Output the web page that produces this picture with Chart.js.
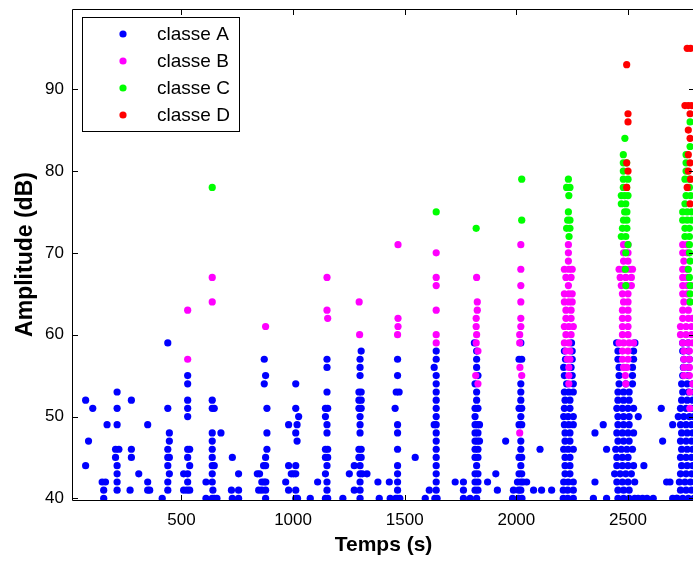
<!DOCTYPE html>
<html>
<head>
<meta charset="utf-8">
<script src="https://cdn.jsdelivr.net/npm/chart.js@4"></script>
<style>
  html, body { margin: 0; padding: 0; background: #fff; overflow: hidden; }
  #wrap { width: 700px; height: 561px; }
</style>
</head>
<body>
<div id="wrap"><canvas id="chart" width="700" height="561"></canvas></div>
<script>
// Ticks
var xTicks = [500, 1000, 1500, 2000, 2500];
var yTicks = [40, 50, 60, 70, 80, 90];

// Points: [temps (s), amplitude (dB)]
var classA = [
  [71,52],[103,51],[84,47],[71,44],[145,42],[160,42],[152,41],[152,40],[167,49],
  [212,53],[212,51],[212,49],[205,46],[220,46],[205,45],[212,44],[212,43],[212,42],[212,41],
  [276,52],[276,46],[276,45],[309,43],[270,41],[349,49],[349,42],[349,41],[358,41],[414,40],
  [439,59],[439,51],[446,48],[446,47],[439,46],[439,45],[446,45],[439,44],[446,43],[439,42],[439,41],
  [510,43],[510,41],[525,41],[537,41],
  [528,55],[528,54],[528,52],[528,51],[528,50],[528,46],[537,46],[528,45],[537,44],[528,43],[528,42],
  [610,42],[610,40],
  [638,52],[638,51],[647,51],[677,48],[638,48],[638,47],[638,46],[638,45],[638,44],[647,44],[638,43],[638,42],[641,41],[638,40],[647,40],[659,40],
  [728,45],[724,41],[728,40],[756,43],[756,41],[756,40],
  [840,43],[850,43],[860,42],[870,42],[878,42],[846,41],[860,41],[877,41],[877,40],[868,44],[877,44],[877,45],[883,46],[883,48],[883,51],[871,54],[877,55],[871,57],
  [967,42],[980,49],[980,44],[980,41],[992,43],
  [1012,54],[1012,51],[1025,50],[1018,49],[1012,48],[1018,47],[1012,44],[1002,43],[1012,43],[1012,41],[1012,40],[1020,40],
  [1077,40],[1110,42],
  [1152,57],[1152,56],[1152,53],[1145,51],[1155,51],[1145,50],[1152,49],[1152,48],[1145,46],[1155,46],[1145,45],[1155,45],[1152,44],[1145,43],[1152,42],[1152,41],[1145,40],[1155,40],
  [1223,40],[1252,43],[1274,44],[1274,41],
  [1305,58],[1300,57],[1300,56],[1300,55],[1295,53],[1305,53],[1295,52],[1305,52],[1295,51],[1305,51],[1300,50],[1300,49],[1300,48],[1295,46],[1305,46],[1295,45],[1305,45],[1300,44],[1300,43],[1310,43],[1300,42],[1300,41],[1300,40],
  [1331,43],[1380,42],[1386,40],[1431,42],[1435,40],
  [1468,57],[1468,55],[1462,53],[1475,53],[1457,51],[1468,49],[1468,48],[1468,46],[1468,44],[1468,43],[1468,42],[1468,41],[1460,40],[1468,40],[1478,40],
  [1547,45],[1592,40],[1610,41],
  [1641,58],[1641,57],[1632,56],[1641,55],[1641,54],[1641,53],[1641,52],[1641,51],[1641,50],[1632,49],[1641,49],[1641,48],[1641,47],[1641,46],[1641,45],[1641,44],[1641,43],[1641,42],[1641,41],[1635,40],[1645,40],
  [1726,42],[1763,42],[1763,41],[1763,40],[1793,40],
  [1812,59],[1822,58],[1822,57],[1822,56],[1828,55],[1815,54],[1822,53],[1822,52],[1815,51],[1828,51],[1815,50],[1815,49],[1825,49],[1835,49],[1815,48],[1828,48],[1815,47],[1825,47],[1835,47],[1815,46],[1828,46],[1815,45],[1828,45],[1822,44],[1815,43],[1828,43],[1815,42],[1828,42],[1815,41],[1828,41],[1822,40],
  [1871,42],[1908,43],[1915,41],[1952,47],[1987,41],[1983,40],
  [2020,59],[2012,57],[2024,57],[2020,54],[2020,53],[2020,52],[2012,51],[2024,51],[2020,50],[2012,49],[2024,49],[2020,47],[2020,46],[2012,45],[2024,45],[2020,44],[2012,43],[2024,43],[2005,42],[2020,42],[2030,42],[2010,41],[2020,41],[2010,40],[2025,40],
  [2046,42],[2077,41],[2106,46],[2113,41],[2158,41],
  [2247,59],[2215,58],[2250,58],[2220,57],[2250,57],[2212,56],[2245,56],[2215,55],[2250,55],[2225,54],[2255,54],[2215,53],[2235,53],[2255,53],[2218,52],[2240,52],[2215,51],[2240,51],[2212,50],[2232,50],[2255,50],[2215,49],[2235,49],[2255,49],[2218,48],[2240,48],[2218,47],[2240,47],[2212,46],[2232,46],[2255,46],[2218,45],[2240,45],[2218,44],[2240,44],[2218,43],[2240,43],[2212,42],[2232,42],[2255,42],[2210,41],[2230,41],[2255,41],[2210,40],[2230,40],[2255,40],
  [2352,48],[2352,42],[2345,40],[2389,49],[2404,46],[2404,40],
  [2449,59],[2531,59],[2455,58],[2525,58],[2455,57],[2525,57],[2460,56],[2520,56],[2460,55],[2520,55],[2460,54],[2490,54],[2520,54],[2455,53],[2480,53],[2505,53],[2455,52],[2480,52],[2505,52],[2450,51],[2475,51],[2500,51],[2525,51],[2455,50],[2480,50],[2505,50],[2455,49],[2480,49],[2505,49],[2450,48],[2475,48],[2500,48],[2525,48],[2455,47],[2480,47],[2505,47],[2445,46],[2470,46],[2495,46],[2520,46],[2450,45],[2475,45],[2500,45],[2450,44],[2475,44],[2500,44],[2525,44],[2440,43],[2465,43],[2490,43],[2515,43],[2450,42],[2475,42],[2500,42],[2530,42],[2455,41],[2480,41],[2505,41],[2455,40],[2480,40],[2505,40],[2530,40],
  [2546,50],[2571,44],[2545,40],[2565,40],[2585,40],[2613,40],
  [2649,51],[2655,47],[2673,42],[2688,42],[2700,49],[2700,40],[2717,40],
  [2745,59],[2770,59],[2745,58],[2770,58],[2750,57],[2775,57],[2748,56],[2772,56],[2745,55],[2770,55],[2740,54],[2765,54],[2790,54],[2745,53],[2770,53],[2795,53],[2740,52],[2765,52],[2790,52],[2735,51],[2760,51],[2785,51],[2725,50],[2750,50],[2775,50],[2795,50],[2735,49],[2760,49],[2785,49],[2740,48],[2765,48],[2790,48],[2735,47],[2760,47],[2785,47],[2740,46],[2765,46],[2790,46],[2735,45],[2760,45],[2785,45],[2740,44],[2765,44],[2790,44],[2735,43],[2760,43],[2785,43],[2730,42],[2755,42],[2780,42],[2735,41],[2760,41],[2785,41],[2720,40],[2745,40],[2770,40],[2795,40]
];

var classB = [
  [528,63],[528,57],[638,67],[638,64],[877,61],[1152,67],[1152,63],[1155,62],[1296,64],[1298,60],
  [1470,71],[1470,62],[1470,61],[1468,60],
  [1641,70],[1641,67],[1641,66],[1641,63],[1641,60],[1641,59],
  [1822,67],[1825,64],[1825,63],[1820,62],[1820,61],[1822,60],[1820,59],[1828,58],[1818,55],[1828,54],
  [2020,71],[2020,68],[2020,66],[2020,64],[2020,62],[2020,61],[2015,60],[2015,59],[2016,56],[2024,55],[2015,48],
  [2233,71],[2233,70],[2233,69],[2215,68],[2235,68],[2250,68],[2222,67],[2245,67],[2233,66],[2215,65],[2235,65],[2250,65],[2215,64],[2235,64],[2250,64],[2222,63],[2245,63],[2222,62],[2245,62],[2215,61],[2235,61],[2255,61],[2222,60],[2245,60],[2215,59],[2235,59],[2222,58],[2240,58],[2228,57],[2240,57],[2235,56],[2235,55],[2235,54],
  [2480,71],[2500,71],[2480,70],[2500,70],[2480,69],[2500,69],[2460,68],[2480,68],[2505,68],[2520,68],[2465,67],[2490,67],[2515,67],[2470,66],[2495,66],[2515,66],[2475,65],[2500,65],[2480,64],[2500,64],[2475,63],[2500,63],[2475,62],[2500,62],[2475,61],[2500,61],[2475,60],[2500,60],[2460,59],[2480,59],[2505,59],[2525,59],[2475,58],[2500,58],[2475,57],[2500,57],[2480,56],[2495,56],[2488,55],[2490,54],
  [2745,71],[2765,71],[2745,70],[2765,70],[2750,69],[2745,68],[2765,68],[2745,67],[2765,67],[2745,66],[2765,66],[2785,66],[2745,65],[2765,65],[2750,64],[2775,64],[2745,63],[2770,63],[2745,62],[2770,62],[2790,62],[2735,61],[2760,61],[2785,61],[2735,60],[2760,60],[2785,60],[2745,59],[2770,59],[2790,59],[2750,58],[2775,58],[2750,57],[2775,57],[2750,56],[2775,56],[2750,55],[2775,55],[2790,54],[2777,53],[2777,51]
];

var classC = [
  [638,78],[1641,75],[1820,73],[2024,79],[2024,74],
  [2233,79],[2225,78],[2240,78],[2235,77],[2233,75],[2230,74],[2240,74],[2225,73],[2240,73],[2236,72],
  [2486,84],[2479,82],[2479,81],[2494,81],[2479,80],[2479,79],[2500,79],[2479,78],[2494,78],[2470,77],[2485,77],[2500,77],[2470,76],[2490,76],[2485,75],[2495,75],[2480,74],[2495,74],[2475,73],[2495,73],[2470,72],[2490,72],[2500,71],[2490,70],[2488,68],[2490,66],
  [2778,86],[2778,83],[2760,82],[2760,81],[2760,80],[2755,79],[2775,79],[2775,78],[2760,77],[2780,77],[2755,76],[2745,75],[2765,75],[2785,75],[2745,74],[2765,74],[2785,74],[2755,73],[2775,73],[2755,72],[2775,72],[2775,71],[2775,70],[2778,69],[2770,68],[2775,67],[2778,66],[2778,65],[2778,64]
];

var classD = [
  [2494,93],[2500,87],[2500,86],[2494,81],[2500,80],[2494,78],
  [2765,95],[2780,95],[2755,88],[2770,88],[2785,88],[2778,87],[2770,85],[2778,84],[2770,82],[2778,81],[2770,80],[2780,79],[2765,78],[2778,76]
];

var classes = ['classe A', 'classe B', 'classe C', 'classe D'];
var colors = ['#0000ff', '#ff00ff', '#00ff00', '#ff0000'];
var series = [classA, classB, classC, classD];

var FONT = 'Liberation Sans, Arial, Helvetica, sans-serif';

// MATLAB-like frame, inward ticks and boxed legend
var matlabFrame = {
  id: 'matlabFrame',
  afterDatasetsDraw: function(chart) {
    var ctx = chart.ctx, a = chart.chartArea, xs = chart.scales.x, ys = chart.scales.y;
    ctx.save();
    ctx.strokeStyle = '#000';
    ctx.lineWidth = 1;
    ctx.beginPath();
    ctx.rect(a.left + 0.5, a.top + 0.5, a.right - a.left, a.bottom - a.top);
    xs.ticks.forEach(function(t) {
      var px = Math.round(xs.getPixelForValue(t.value)) + 0.5;
      ctx.moveTo(px, a.bottom); ctx.lineTo(px, a.bottom - 5);
      ctx.moveTo(px, a.top); ctx.lineTo(px, a.top + 6);
    });
    ys.ticks.forEach(function(t) {
      var py = Math.round(ys.getPixelForValue(t.value)) + 0.5;
      ctx.moveTo(a.left, py); ctx.lineTo(a.left + 6, py);
      ctx.moveTo(a.right, py); ctx.lineTo(a.right - 6, py);
    });
    ctx.stroke();

    // legend
    var lx = 82, ly = 17, lw = 157, lh = 114;
    ctx.fillStyle = '#fff';
    ctx.fillRect(lx, ly, lw, lh);
    ctx.strokeRect(lx + 0.5, ly + 0.5, lw, lh);
    ctx.font = '19px ' + FONT;
    ctx.textBaseline = 'middle';
    ctx.textAlign = 'left';
    chart.data.datasets.forEach(function(ds, i) {
      var yy = 34 + i * 27;
      ctx.fillStyle = ds.backgroundColor;
      ctx.beginPath();
      ctx.arc(123, yy, 3.6, 0, Math.PI * 2);
      ctx.fill();
      ctx.fillStyle = '#000';
      ctx.fillText(ds.label, 157, yy + 1);
    });
    ctx.restore();
  }
};

function plainLabel(v) { return String(v); }

var ctx = document.getElementById('chart').getContext('2d');
var chart = new Chart(ctx, {
  type: 'scatter',
  data: {
    datasets: series.map(function(pts, i) {
      return {
        label: classes[i],
        data: pts.map(function(p) { return { x: p[0], y: p[1] }; }),
        backgroundColor: colors[i],
        borderWidth: 0,
        pointRadius: 3.6,
        pointHoverRadius: 3.6,
        order: 4 - i,
        clip: 0
      };
    })
  },
  options: {
    responsive: false,
    animation: false,
    devicePixelRatio: 1,
    layout: { padding: { left: 0, top: 9, right: 5, bottom: 0 } },
    plugins: { legend: { display: false }, tooltip: { enabled: false } },
    scales: {
      x: {
        type: 'linear',
        min: 10,
        max: 2800,
        grid: { display: false, drawTicks: false },
        border: { display: false },
        ticks: { color: '#000', font: { family: FONT, size: 17 }, padding: 10, maxRotation: 0, callback: plainLabel },
        afterBuildTicks: function(s) { s.ticks = xTicks.map(function(v) { return { value: v }; }); },
        afterFit: function(s) { s.height = 61; s.paddingLeft = 0; s.paddingRight = 0; },
        title: { display: true, text: 'Temps (s)', color: '#000', font: { family: FONT, size: 21, weight: 'bold' }, padding: { top: 0, bottom: 3 } }
      },
      y: {
        type: 'linear',
        min: 39.8,
        max: 99.8,
        grid: { display: false, drawTicks: false },
        border: { display: false },
        ticks: { color: '#000', font: { family: FONT, size: 17 }, padding: 8, callback: plainLabel },
        afterBuildTicks: function(s) { s.ticks = yTicks.map(function(v) { return { value: v }; }); },
        afterFit: function(s) { s.width = 72; s.paddingTop = 0; s.paddingBottom = 0; },
        title: { display: true, text: 'Amplitude (dB)', color: '#000', font: { family: FONT, size: 23, weight: 'bold' }, padding: { top: 12, bottom: 0 } }
      }
    }
  },
  plugins: [matlabFrame]
});
</script>
</body>
</html>
